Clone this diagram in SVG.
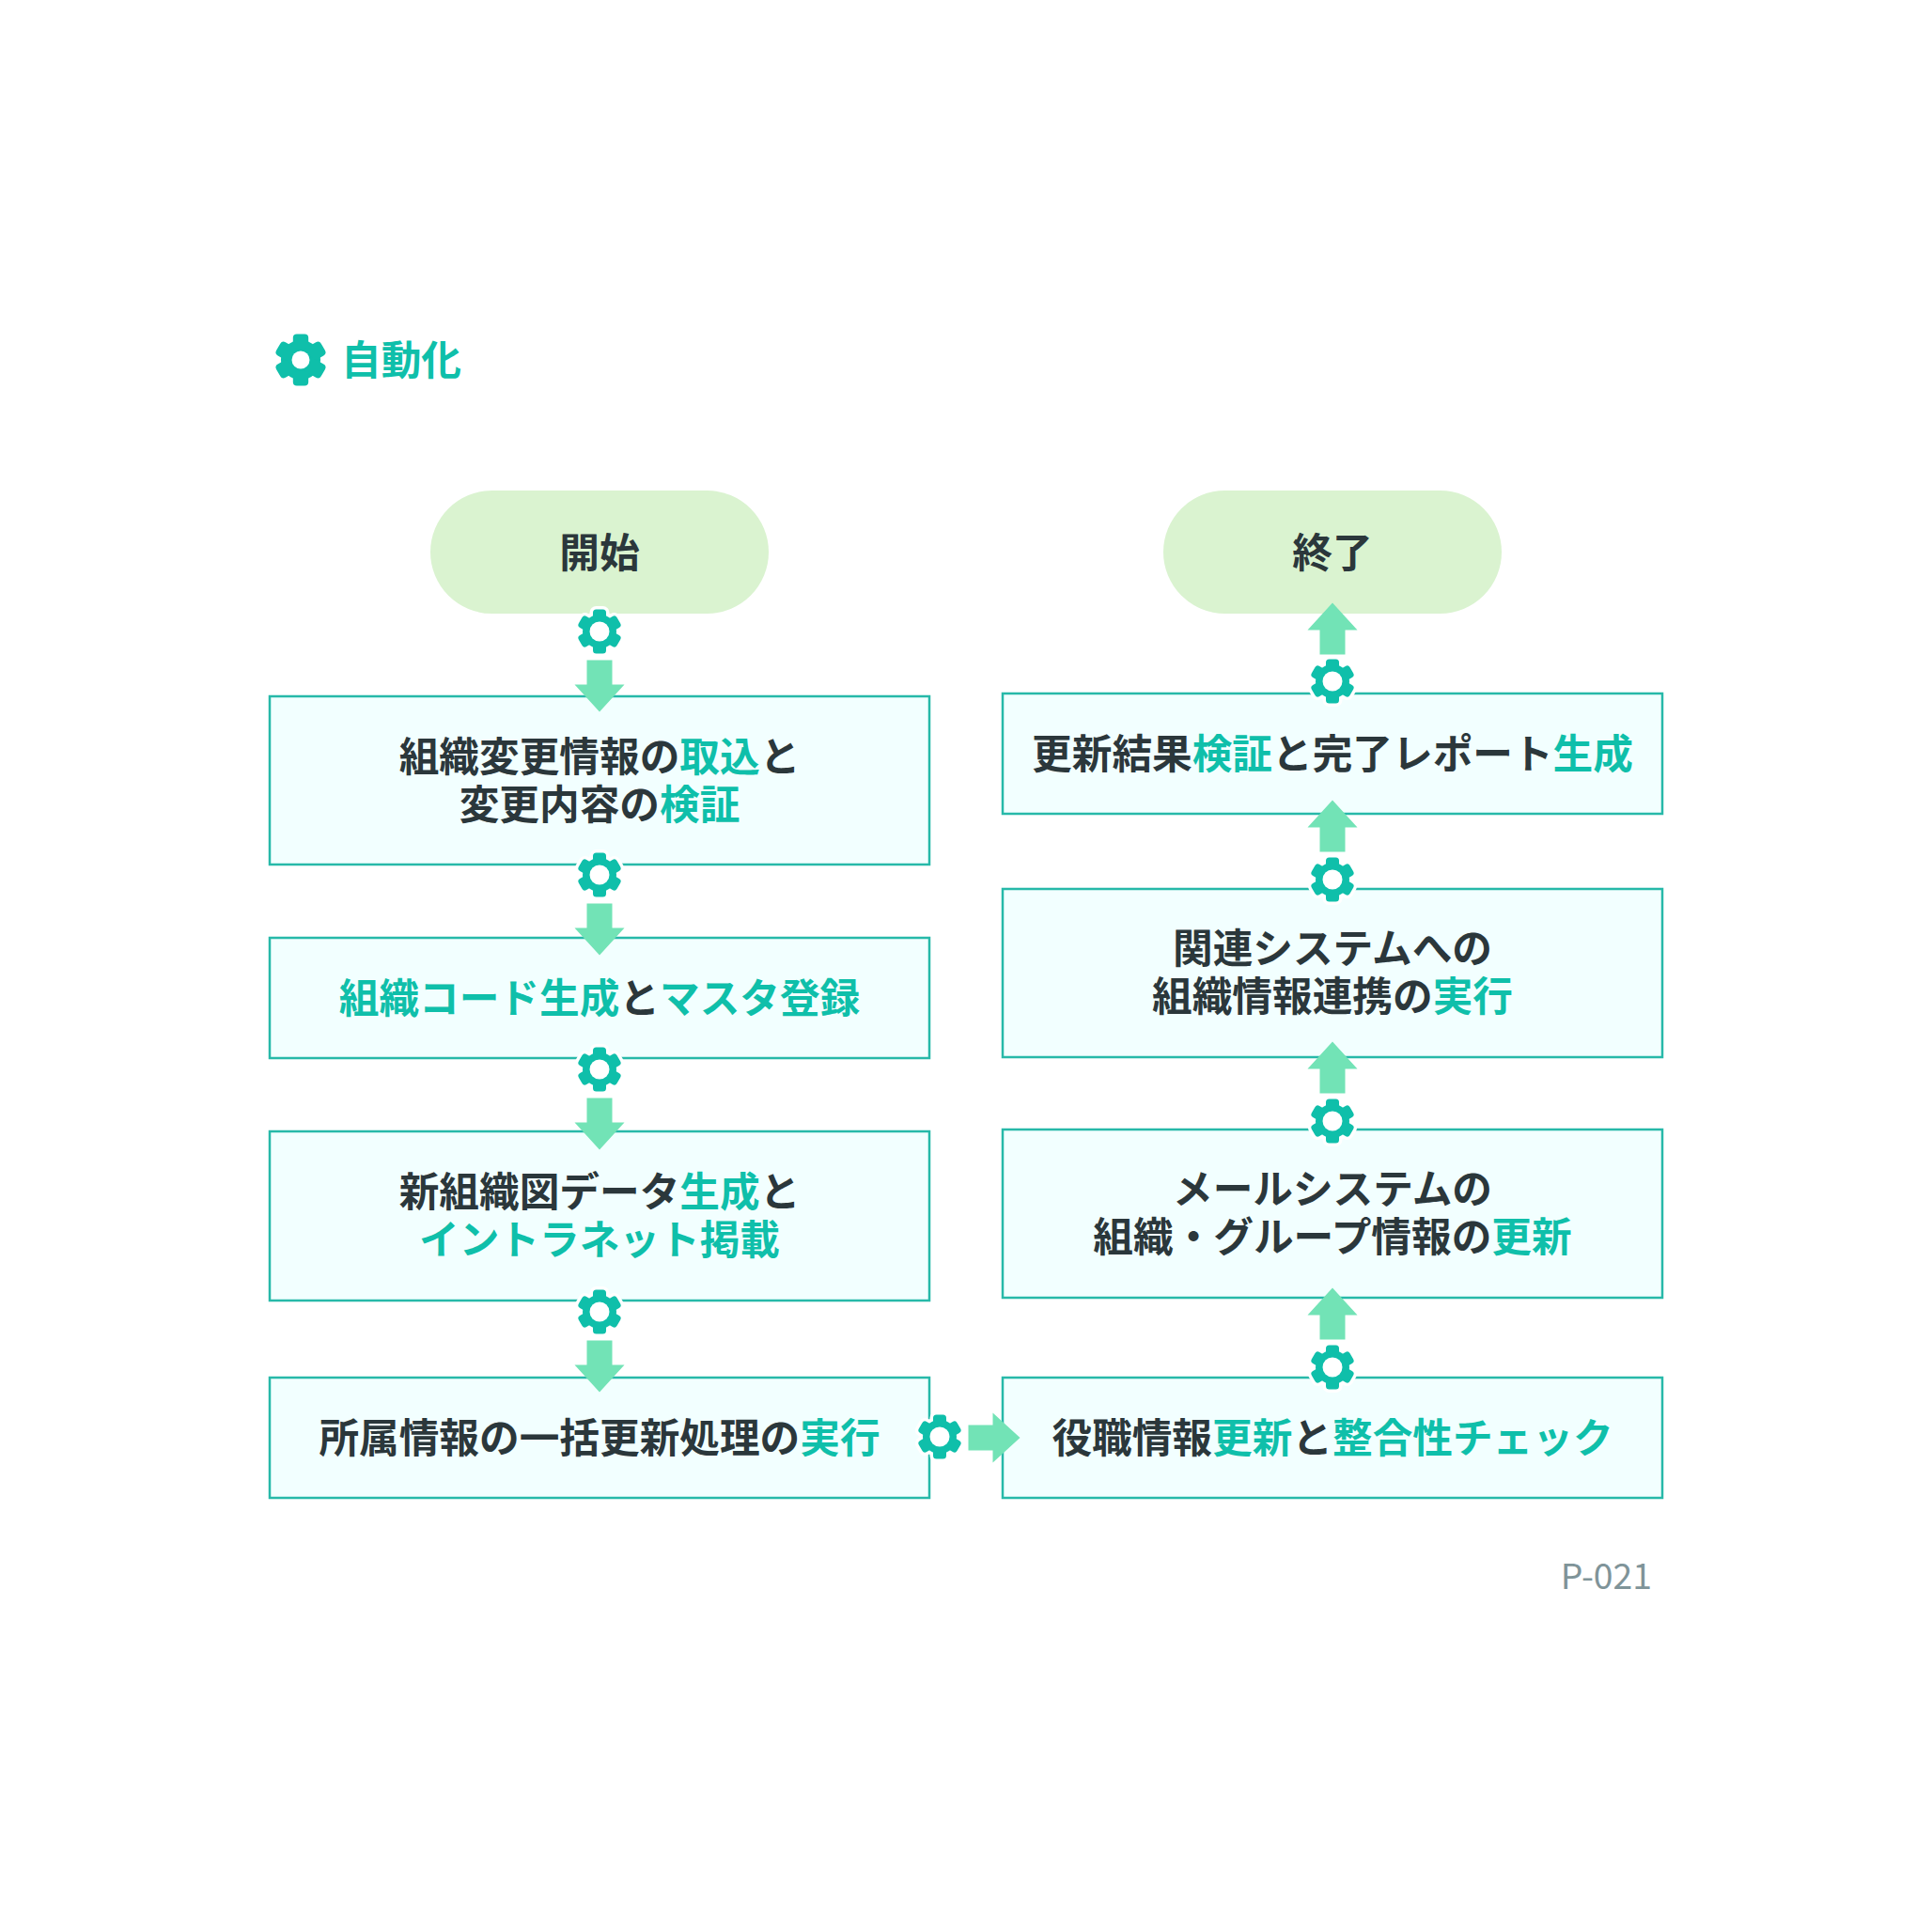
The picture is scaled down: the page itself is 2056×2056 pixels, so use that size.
<svg xmlns="http://www.w3.org/2000/svg" width="2056" height="2056" viewBox="0 0 2056 2056">
<style>
text{font-family:"Noto Sans CJK JP","Noto Sans",sans-serif}
.t{font-size:42.67px;font-weight:700;fill:#2b373b;text-anchor:middle}
.a{fill:#0fbfaa}
.box{fill:#f2ffff;stroke:#27b9a9;stroke-width:2.5}
.pill{fill:#daf3d0}
.arrow{fill:#72e3b6}
.halo{fill:#fff;stroke:#fff;stroke-width:7}
.gear{fill:#0fbfaa}
</style>
<defs>
<g id="g">
<circle r="18"/>
<rect x="-7" y="-23.500" width="14" height="47" rx="3.500"/><rect x="-7" y="-23.500" width="14" height="47" rx="3.500" transform="rotate(60)"/><rect x="-7" y="-23.500" width="14" height="47" rx="3.500" transform="rotate(120)"/>
</g>
<g id="gear"><use href="#g" class="halo"/><use href="#g" class="gear"/><circle r="10.500" fill="#fff"/></g>
<polygon id="down" points="-13.500,-27.500 13.500,-27.500 13.500,-1.500 26.500,-1.500 0,27.500 -26.500,-1.500 -13.500,-1.500"/>
</defs>
<rect width="2056" height="2056" fill="#fff"/>
<g id="header">
<use href="#g" class="gear" transform="translate(320,383) scale(1.17)"/><circle cx="320" cy="383" r="9.500" fill="#fff"/>
<text x="363" y="398.500" font-size="42.67" font-weight="700" class="a">自動化</text>
</g>
<g id="n-start"><rect class="pill" x="458" y="522" width="360" height="131" rx="65.500"/><text class="t" x="638" y="603.500">開始</text></g>
<g id="n-end"><rect class="pill" x="1238" y="522" width="360" height="131" rx="65.500"/><text class="t" x="1418" y="603.500">終了</text></g>
<g id="n1"><rect class="box" x="287" y="741" width="702" height="179"/><text class="t" x="638" y="820.500">組織変更情報の<tspan class="a">取込</tspan>と</text><text class="t" x="638" y="871.500">変更内容の<tspan class="a">検証</tspan></text></g>
<g id="n2"><rect class="box" x="287" y="998" width="702" height="128"/><text class="t" x="638" y="1077.500"><tspan class="a">組織コード生成</tspan>と<tspan class="a">マスタ登録</tspan></text></g>
<g id="n3"><rect class="box" x="287" y="1204" width="702" height="180"/><text class="t" x="638" y="1284">新組織図データ<tspan class="a">生成</tspan>と</text><text class="t a" x="638" y="1335">イントラネット掲載</text></g>
<g id="n4"><rect class="box" x="287" y="1466" width="702" height="128"/><text class="t" x="638" y="1545.500">所属情報の一括更新処理の<tspan class="a">実行</tspan></text></g>
<g id="n5"><rect class="box" x="1067" y="1466" width="702" height="128"/><text class="t" x="1418" y="1545.500">役職情報<tspan class="a">更新</tspan>と<tspan class="a">整合性チェック</tspan></text></g>
<g id="n6"><rect class="box" x="1067" y="1202" width="702" height="179"/><text class="t" x="1418" y="1281">メールシステムの</text><text class="t" x="1418" y="1332">組織・グループ情報の<tspan class="a">更新</tspan></text></g>
<g id="n7"><rect class="box" x="1067" y="946" width="702" height="179"/><text class="t" x="1418" y="1025">関連システムへの</text><text class="t" x="1418" y="1076">組織情報連携の<tspan class="a">実行</tspan></text></g>
<g id="n8"><rect class="box" x="1067" y="738" width="702" height="128"/><text class="t" x="1418" y="817.500">更新結果<tspan class="a">検証</tspan>と完了レポート<tspan class="a">生成</tspan></text></g>
<g id="connectors">
<use href="#gear" x="638" y="672"/><use href="#down" class="arrow" x="638" y="730"/>
<use href="#gear" x="638" y="931"/><use href="#down" class="arrow" x="638" y="989"/>
<use href="#gear" x="638" y="1138"/><use href="#down" class="arrow" x="638" y="1196"/>
<use href="#gear" x="638" y="1396"/><use href="#down" class="arrow" x="638" y="1454"/>
<use href="#gear" x="1000" y="1529"/><use href="#down" class="arrow" transform="translate(1058,1530) rotate(-90)"/>
<use href="#gear" x="1418" y="1455"/><use href="#down" class="arrow" transform="translate(1418,1398) rotate(180)"/>
<use href="#gear" x="1418" y="1193"/><use href="#down" class="arrow" transform="translate(1418,1136) rotate(180)"/>
<use href="#gear" x="1418" y="936"/><use href="#down" class="arrow" transform="translate(1418,879) rotate(180)"/>
<use href="#gear" x="1418" y="725"/><use href="#down" class="arrow" transform="translate(1418,669) rotate(180)"/>
</g>
<text id="page" x="1758" y="1691" font-size="37.33" fill="#7f9499" text-anchor="end">P-021</text>
</svg>
